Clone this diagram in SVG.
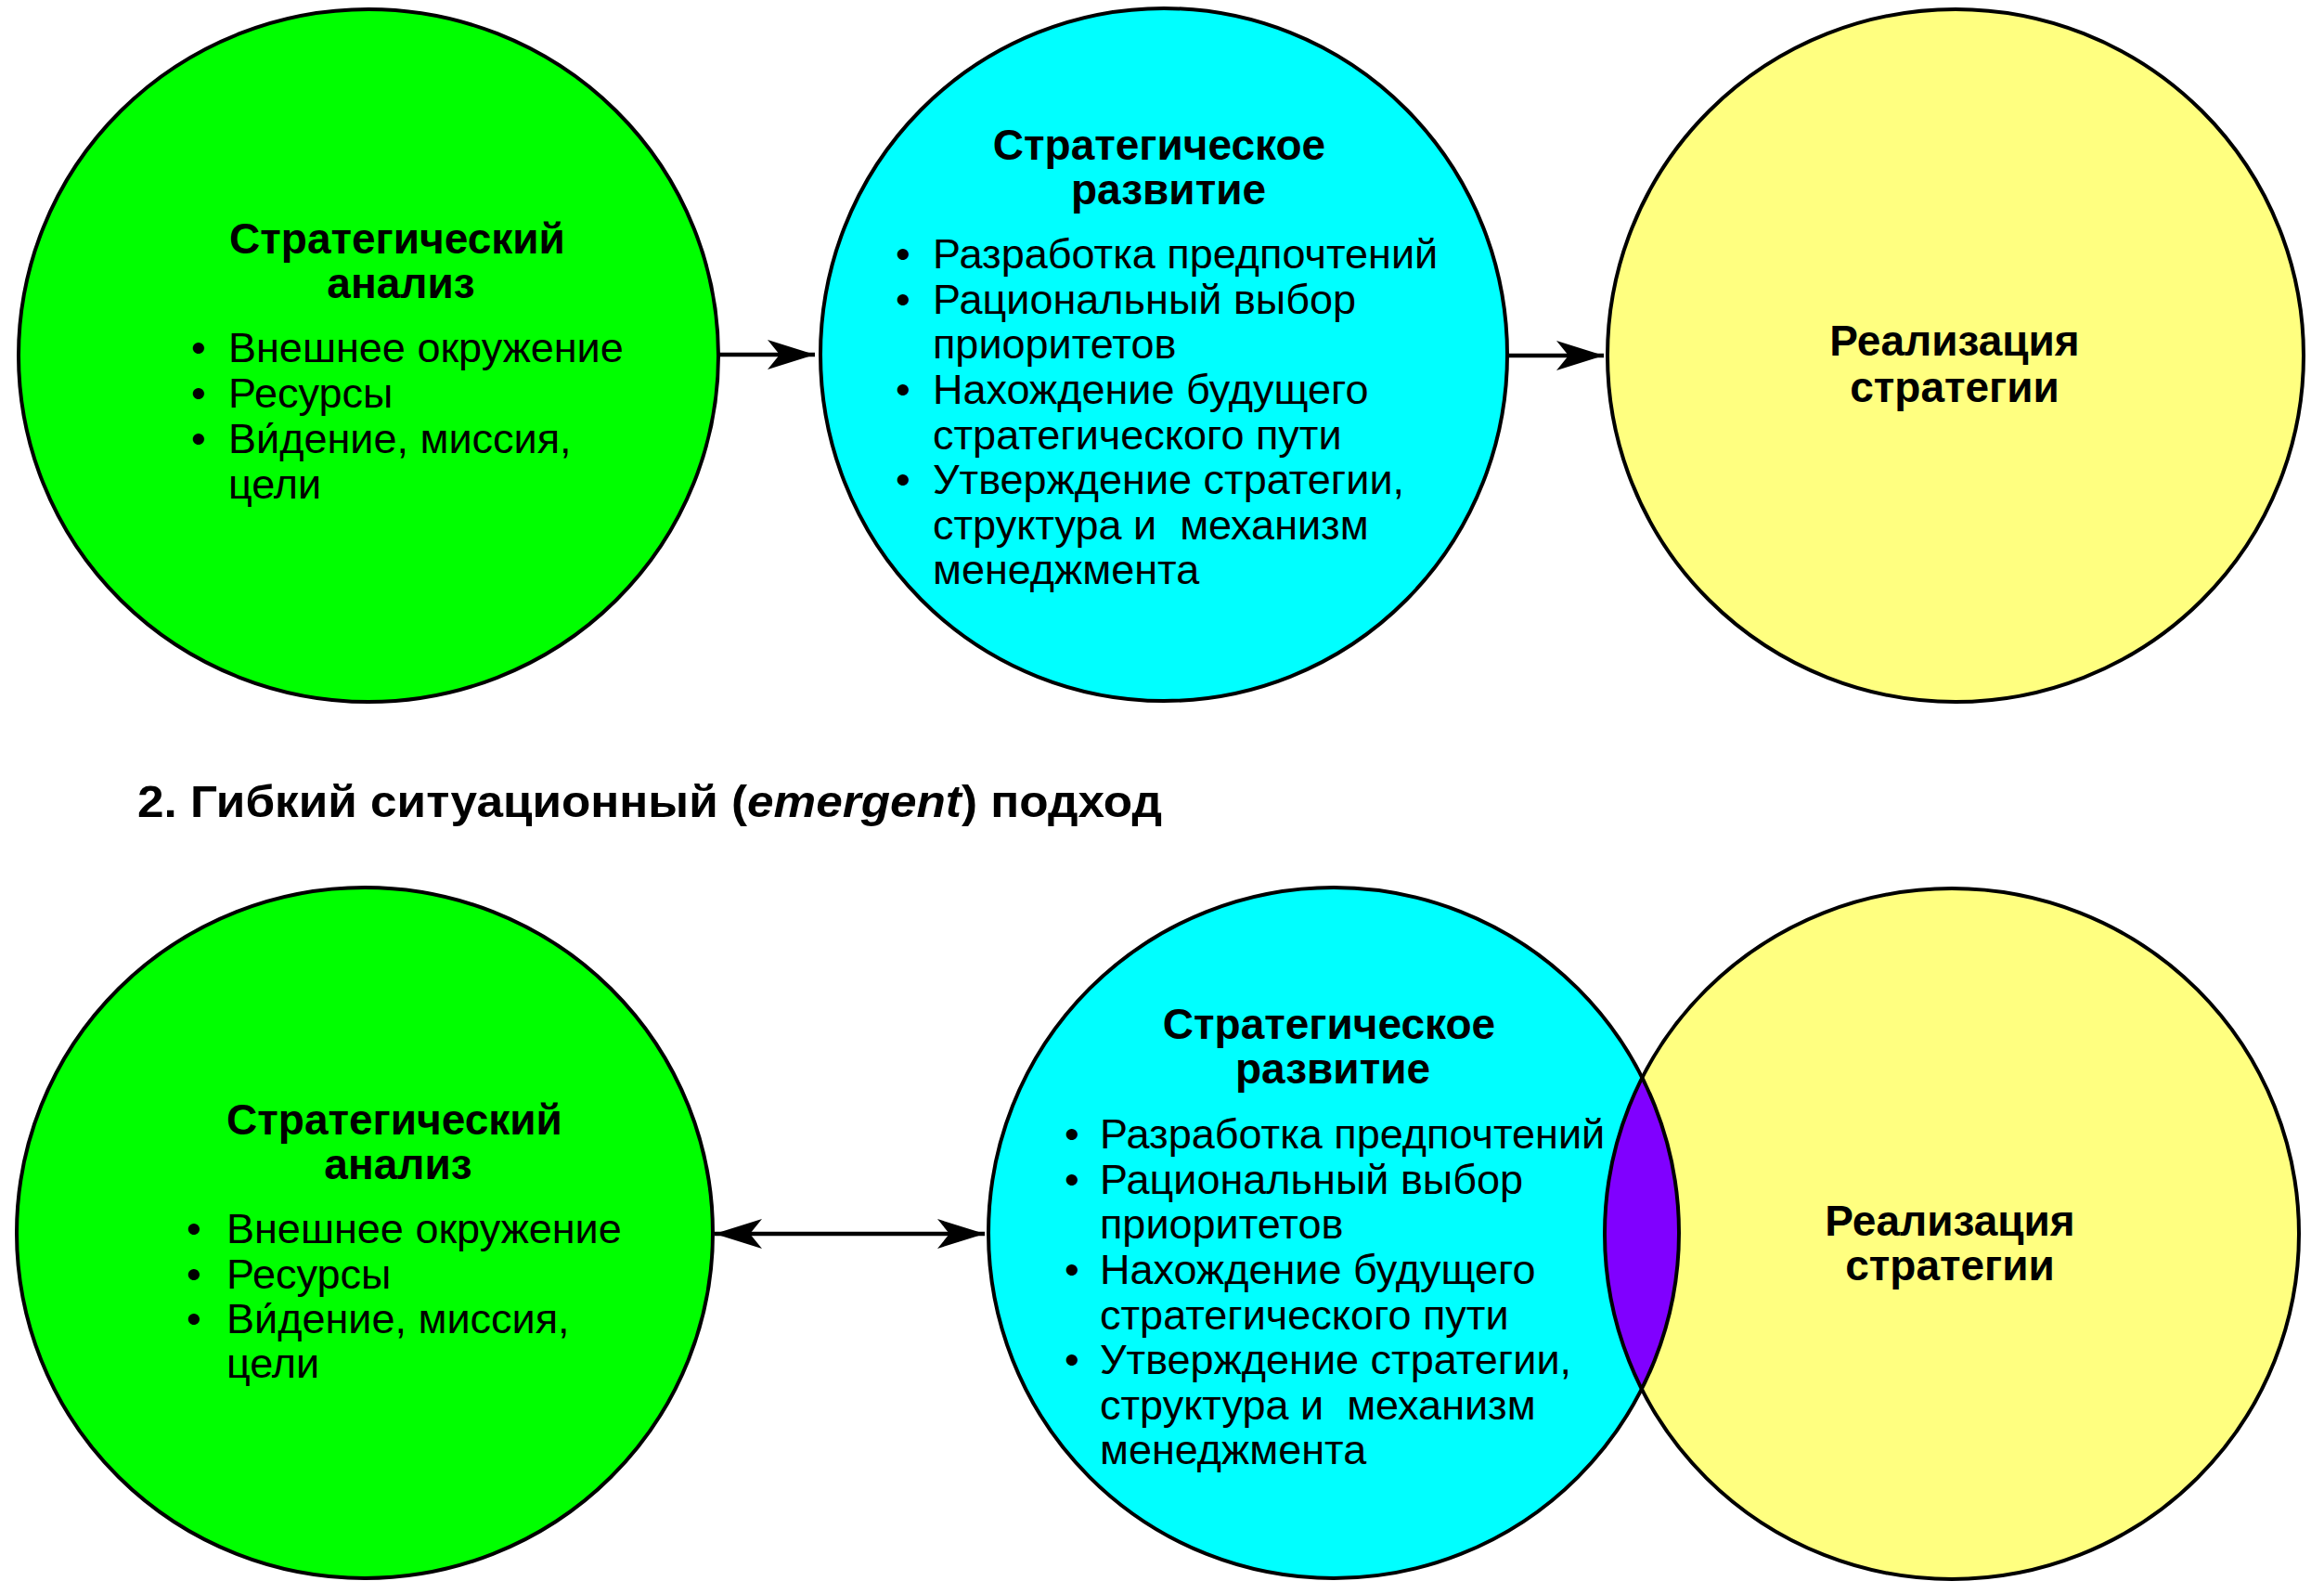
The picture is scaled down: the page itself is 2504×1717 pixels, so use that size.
<svg xmlns="http://www.w3.org/2000/svg" width="2504" height="1717" viewBox="0 0 2504 1717">
<style>
.bg{fill:#ffffff}
.green{fill:#00ff00}
.cyan{fill:#00ffff}
.yellow{fill:#ffff80}
.lens{fill:#8000ff}
.outline{fill:none;stroke:#000;stroke-width:4}
text{font-family:"Liberation Sans",Arial,Helvetica,sans-serif;fill:#000}
.h{font-size:46px;font-weight:bold;text-anchor:middle}
.t{font-size:45px}
.b{font-size:45px;text-anchor:middle}
.title{font-size:48px;font-weight:bold}
.conn{stroke:#000;stroke-width:4.5;fill:none}
</style>
<defs>
<marker id="arr" markerUnits="userSpaceOnUse" markerWidth="52" markerHeight="34" viewBox="0 0 52 34" refX="51" refY="17" orient="auto-start-reverse">
<path d="M0,1 L51,17 L0,33 L13,17 Z" fill="#000"/>
</marker>
<clipPath id="cyanClip"><ellipse cx="1437" cy="1328" rx="372" ry="372"/></clipPath>
</defs>
<rect class="bg" x="0" y="0" width="2504" height="1717"/>

<g id="top-analysis">
<ellipse class="green" cx="397" cy="383" rx="377" ry="373"/>
<ellipse class="outline" cx="397" cy="383" rx="377" ry="373"/>
<text class="h" x="428" y="273">Стратегический</text>
<text class="h" x="432" y="321">анализ</text>
<text class="b" x="214" y="390">•</text><text class="t" x="246" y="390">Внешнее окружение</text>
<text class="b" x="214" y="439">•</text><text class="t" x="246" y="439">Ресурсы</text>
<text class="b" x="214" y="488">•</text><text class="t" x="246" y="488">Ви́дение, миссия,</text>
<text class="t" x="246" y="537">цели</text>
</g>

<g id="top-development">
<ellipse class="cyan" cx="1254" cy="382" rx="370" ry="373"/>
<ellipse class="outline" cx="1254" cy="382" rx="370" ry="373"/>
<text class="h" x="1249" y="172">Стратегическое</text>
<text class="h" x="1259" y="220">развитие</text>
<text class="b" x="973" y="289">•</text><text class="t" x="1005" y="289">Разработка предпочтений</text>
<text class="b" x="973" y="338">•</text><text class="t" x="1005" y="338">Рациональный выбор</text>
<text class="t" x="1005" y="386">приоритетов</text>
<text class="b" x="973" y="435">•</text><text class="t" x="1005" y="435">Нахождение будущего</text>
<text class="t" x="1005" y="484">стратегического пути</text>
<text class="b" x="973" y="532">•</text><text class="t" x="1005" y="532">Утверждение стратегии,</text>
<text class="t" x="1005" y="581" xml:space="preserve">структура и  механизм</text>
<text class="t" x="1005" y="629">менеджмента</text>
</g>

<g id="top-implementation">
<ellipse class="yellow" cx="2107" cy="383" rx="375" ry="373"/>
<ellipse class="outline" cx="2107" cy="383" rx="375" ry="373"/>
<text class="h" x="2106" y="383">Реализация</text>
<text class="h" x="2106" y="433">стратегии</text>
</g>

<g id="title">
<text class="title" x="148" y="880" textLength="1104" lengthAdjust="spacingAndGlyphs">2. Гибкий ситуационный (<tspan font-style="italic">emergent</tspan>) подход</text>
</g>

<g id="bottom-analysis">
<ellipse class="green" cx="393" cy="1328" rx="375" ry="372"/>
<ellipse class="outline" cx="393" cy="1328" rx="375" ry="372"/>
<text class="h" x="425" y="1222">Стратегический</text>
<text class="h" x="429" y="1270">анализ</text>
<text class="b" x="209" y="1339">•</text><text class="t" x="244" y="1339">Внешнее окружение</text>
<text class="b" x="209" y="1388">•</text><text class="t" x="244" y="1388">Ресурсы</text>
<text class="b" x="209" y="1436">•</text><text class="t" x="244" y="1436">Ви́дение, миссия,</text>
<text class="t" x="244" y="1484">цели</text>
</g>

<g id="bottom-development">
<ellipse class="cyan" cx="1437" cy="1328" rx="372" ry="372"/>
</g>

<g id="bottom-implementation">
<ellipse class="yellow" cx="2103" cy="1329" rx="374" ry="372"/>
</g>

<g id="bottom-overlap">
<ellipse class="lens" cx="2103" cy="1329" rx="374" ry="372" clip-path="url(#cyanClip)"/>
<ellipse class="outline" cx="1437" cy="1328" rx="372" ry="372"/>
<ellipse class="outline" cx="2103" cy="1329" rx="374" ry="372"/>
</g>

<g id="bottom-development-text">
<text class="h" x="1432" y="1119">Стратегическое</text>
<text class="h" x="1436" y="1167">развитие</text>
<text class="b" x="1155" y="1237">•</text><text class="t" x="1185" y="1237">Разработка предпочтений</text>
<text class="b" x="1155" y="1286">•</text><text class="t" x="1185" y="1286">Рациональный выбор</text>
<text class="t" x="1185" y="1334">приоритетов</text>
<text class="b" x="1155" y="1383">•</text><text class="t" x="1185" y="1383">Нахождение будущего</text>
<text class="t" x="1185" y="1432">стратегического пути</text>
<text class="b" x="1155" y="1480">•</text><text class="t" x="1185" y="1480">Утверждение стратегии,</text>
<text class="t" x="1185" y="1529" xml:space="preserve">структура и  механизм</text>
<text class="t" x="1185" y="1577">менеджмента</text>
</g>

<g id="bottom-implementation-text">
<text class="h" x="2101" y="1331">Реализация</text>
<text class="h" x="2101" y="1379">стратегии</text>
</g>

<g id="connectors">
<line class="conn" x1="775" y1="382" x2="878" y2="382" marker-end="url(#arr)"/>
<line class="conn" x1="1625" y1="383" x2="1728" y2="383" marker-end="url(#arr)"/>
<line class="conn" x1="770" y1="1329" x2="1061" y2="1329" marker-start="url(#arr)" marker-end="url(#arr)"/>
</g>
</svg>
